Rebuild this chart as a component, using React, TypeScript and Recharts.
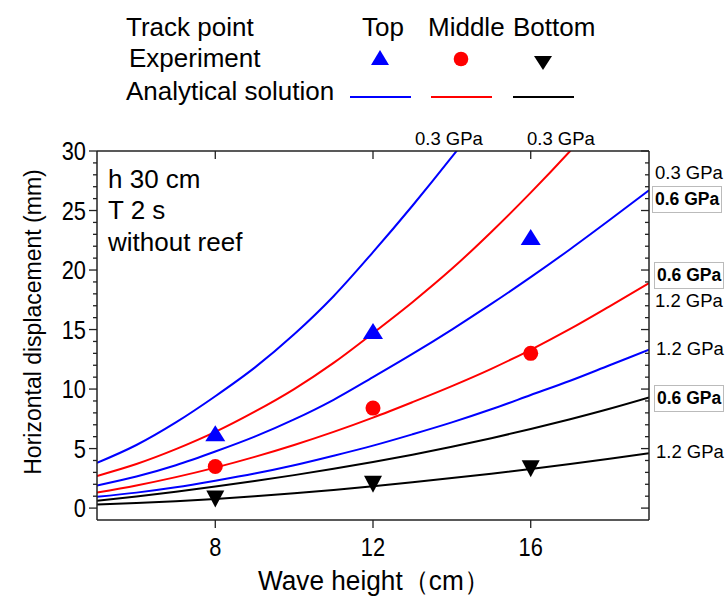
import { ComposedChart, Line, Scatter, XAxis, YAxis } from "recharts";

// wave height (cm) sampled for the analytical curves
const waveHeights = [5, 6, 7, 8, 9, 10, 11, 12, 13, 14, 15, 16, 17, 18, 19];

// analytical solution, horizontal displacement (mm)
const top03 = [3.8, 5.3, 7.2, 9.4, 11.8, 14.6, 17.8, 21.5, 25.4, 29.5, 33.8, 38.5, 43.5, 48.8, 54.5];
const top06 = [1.9, 2.65, 3.6, 4.75, 6.0, 7.45, 9.1, 11.0, 12.95, 15.0, 17.15, 19.4, 21.75, 24.2, 26.7];
const top12 = [0.95, 1.3, 1.75, 2.3, 2.9, 3.6, 4.4, 5.25, 6.2, 7.2, 8.3, 9.5, 10.7, 12.0, 13.3];
const mid03 = [2.7, 3.7, 4.95, 6.4, 8.1, 10.0, 12.2, 14.7, 17.3, 20.1, 23.2, 26.5, 30.0, 33.7, 37.6];
const mid06 = [1.3, 1.9, 2.6, 3.4, 4.3, 5.3, 6.4, 7.6, 8.9, 10.25, 11.7, 13.3, 15.05, 16.95, 18.9];
const bot06 = [0.62, 0.98, 1.38, 1.81, 2.27, 2.77, 3.3, 3.87, 4.49, 5.15, 5.87, 6.64, 7.47, 8.35, 9.3];
const bot12 = [0.3, 0.43, 0.58, 0.77, 0.99, 1.24, 1.53, 1.84, 2.17, 2.52, 2.89, 3.28, 3.7, 4.14, 4.6];

// experiment
const expHeights = [8, 12, 16];
const expTop = [6.2, 14.8, 22.7];
const expMid = [3.5, 8.4, 13.0];
const expBot = [0.8, 2.05, 3.35];

const yTicks = Array.from({ length: 31 }, (_, i) => i);
const xTicks = [8, 12, 16];

const curves = waveHeights.map((x, i) => ({
  x,
  top03: top03[i],
  top06: top06[i],
  top12: top12[i],
  mid03: mid03[i],
  mid06: mid06[i],
  bot06: bot06[i],
  bot12: bot12[i],
}));

const pts = (ys: number[]) => expHeights.map((x, i) => ({ x, y: ys[i] }));

const FONT = '"Liberation Sans", Arial, sans-serif';
const BLUE = "#0000ff";
const RED = "#ff0000";
const AXIS = "#222";

// tick numbers in the original are a narrow face
const NarrowNum = ({ x, y, anchor, v }: any) => (
  <text
    transform={`translate(${x},${y}) scale(0.84,1)`}
    textAnchor={anchor}
    dominantBaseline="central"
    fontSize={26}
    fontFamily={FONT}
    fill="#000"
  >
    {v}
  </text>
);

const LeftTick = (p: any) => {
  const major = p.payload.value % 5 === 0;
  return (
    <g>
      <line x1={p.x} x2={p.x - (major ? 8 : 4)} y1={p.y} y2={p.y} stroke={AXIS} strokeWidth={1.3} />
      {major && <NarrowNum x={p.x - 11} y={p.y} anchor="end" v={p.payload.value} />}
    </g>
  );
};

const RightTick = (p: any) => {
  const major = p.payload.value % 5 === 0;
  return <line x1={p.x} x2={p.x - (major ? 8 : 4)} y1={p.y} y2={p.y} stroke={AXIS} strokeWidth={1.3} />;
};

const BottomTick = (p: any) => (
  <g>
    <line x1={p.x} x2={p.x} y1={p.y} y2={p.y + 8} stroke={AXIS} strokeWidth={1.3} />
    <NarrowNum x={p.x} y={p.y + 27} anchor="middle" v={p.payload.value} />
  </g>
);

const TopTick = (p: any) => <line x1={p.x} x2={p.x} y1={p.y} y2={p.y + 8} stroke={AXIS} strokeWidth={1.3} />;

const UpTri = (p: any) => (
  <polygon points={`${p.cx},${p.cy - 9} ${p.cx - 10},${p.cy + 7} ${p.cx + 10},${p.cy + 7}`} fill={BLUE} />
);
const Dot = (p: any) => <circle cx={p.cx} cy={p.cy} r={7.5} fill={RED} />;
const DownTri = (p: any) => (
  <polygon points={`${p.cx - 9},${p.cy - 8} ${p.cx + 9},${p.cy - 8} ${p.cx},${p.cy + 9}`} fill="#000" />
);

const txt = (left: number, top: number, s: string, size: number, extra: any = {}) => (
  <div style={{ position: "absolute", left, top, fontSize: size, lineHeight: 1, whiteSpace: "nowrap", ...extra }}>{s}</div>
);

const boxed = (left: number, top: number, s: string) => (
  <div
    style={{
      position: "absolute",
      left,
      top,
      fontSize: 17.5,
      fontWeight: "bold",
      lineHeight: "25px",
      padding: "0 2px",
      border: "1px solid #bbb",
      whiteSpace: "nowrap",
      background: "#fff",
    }}
  >
    {s}
  </div>
);

const series: [string, string][] = [
  ["top03", BLUE],
  ["mid03", RED],
  ["top06", BLUE],
  ["mid06", RED],
  ["top12", BLUE],
  ["bot06", "#000"],
  ["bot12", "#000"],
];

export default function App() {
  return (
    <div style={{ position: "absolute", left: 0, top: 0, width: 727, height: 601, background: "#fff", fontFamily: FONT, color: "#000" }}>
      <ComposedChart width={727} height={601} data={curves} margin={{ top: 141, right: 68, bottom: 51, left: 57 }}>
        <XAxis
          xAxisId="b"
          type="number"
          dataKey="x"
          domain={[5, 19]}
          ticks={xTicks}
          interval={0}
          height={30}
          tickSize={0}
          tickMargin={0}
          tickLine={false}
          tick={<BottomTick />}
          axisLine={{ stroke: AXIS, strokeWidth: 1.5 }}
          allowDataOverflow
        />
        <XAxis
          xAxisId="t"
          orientation="top"
          type="number"
          dataKey="x"
          domain={[5, 19]}
          ticks={xTicks}
          interval={0}
          height={10}
          tickSize={0}
          tickMargin={0}
          tickLine={false}
          tick={<TopTick />}
          axisLine={{ stroke: AXIS, strokeWidth: 1.5 }}
          allowDataOverflow
        />
        <YAxis
          yAxisId="l"
          type="number"
          domain={[-1, 30]}
          ticks={yTicks}
          interval={0}
          width={40}
          tickSize={0}
          tickMargin={0}
          tickLine={false}
          tick={<LeftTick />}
          axisLine={{ stroke: AXIS, strokeWidth: 1.5 }}
          allowDataOverflow
        />
        <YAxis
          yAxisId="r"
          orientation="right"
          type="number"
          domain={[-1, 30]}
          ticks={yTicks}
          interval={0}
          width={10}
          tickSize={0}
          tickMargin={0}
          tickLine={false}
          tick={<RightTick />}
          axisLine={{ stroke: AXIS, strokeWidth: 1.5 }}
          allowDataOverflow
        />
        {series.map(([k, c]) => (
          <Line
            key={k}
            xAxisId="b"
            yAxisId="l"
            type="monotone"
            dataKey={k}
            stroke={c}
            strokeWidth={2}
            dot={false}
            activeDot={false}
            isAnimationActive={false}
          />
        ))}
        <Scatter xAxisId="b" yAxisId="l" data={pts(expTop)} dataKey="y" shape={<UpTri />} isAnimationActive={false} />
        <Scatter xAxisId="b" yAxisId="l" data={pts(expMid)} dataKey="y" shape={<Dot />} isAnimationActive={false} />
        <Scatter xAxisId="b" yAxisId="l" data={pts(expBot)} dataKey="y" shape={<DownTri />} isAnimationActive={false} />
      </ComposedChart>

      {/* legend */}
      {txt(126, 14, "Track point", 26)}
      {txt(362, 14, "Top", 26)}
      {txt(428, 14, "Middle", 26)}
      {txt(513, 14, "Bottom", 26)}
      {txt(129, 45, "Experiment", 26)}
      {txt(126, 78, "Analytical solution", 26)}
      <svg style={{ position: "absolute", left: 0, top: 0 }} width={727} height={110}>
        <polygon points="380,50 371,65 389,65" fill={BLUE} />
        <circle cx={461} cy={59} r={7.3} fill={RED} />
        <polygon points="534,56 552,56 543,70" fill="#000" />
        <line x1={350} x2={411} y1={97} y2={97} stroke={BLUE} strokeWidth={2} />
        <line x1={431} x2={492} y1={97} y2={97} stroke={RED} strokeWidth={2} />
        <line x1={513} x2={574} y1={97} y2={97} stroke="#000" strokeWidth={2} />
      </svg>

      {/* y title */}
      <div
        style={{
          position: "absolute",
          left: 33,
          top: 322,
          fontSize: 23,
          whiteSpace: "nowrap",
          transform: "translate(-50%, -50%) rotate(-90deg)",
        }}
      >
        Horizontal displacement (mm)
      </div>
      {/* x title */}
      <div
        style={{
          position: "absolute",
          left: 374,
          top: 581,
          fontSize: 27,
          whiteSpace: "nowrap",
          transform: "translate(-50%, -50%) scaleX(0.97)",
        }}
      >
        Wave height（cm）
      </div>

      {/* in-plot annotation */}
      {txt(108, 166, "h 30 cm", 26)}
      {txt(108, 197, "T 2 s", 26)}
      {txt(108, 229, "without reef", 26)}

      {/* curve labels */}
      {txt(415, 130, "0.3 GPa", 18.5)}
      {txt(527, 130, "0.3 GPa", 18.5)}
      {txt(655, 164, "0.3 GPa", 18.5)}
      {boxed(652, 186, "0.6 GPa")}
      {boxed(654, 262, "0.6 GPa")}
      {txt(655, 292, "1.2 GPa", 18.5)}
      {txt(656, 340, "1.2 GPa", 18.5)}
      {boxed(654, 385, "0.6 GPa")}
      {txt(656, 443, "1.2 GPa", 18.5)}
    </div>
  );
}
